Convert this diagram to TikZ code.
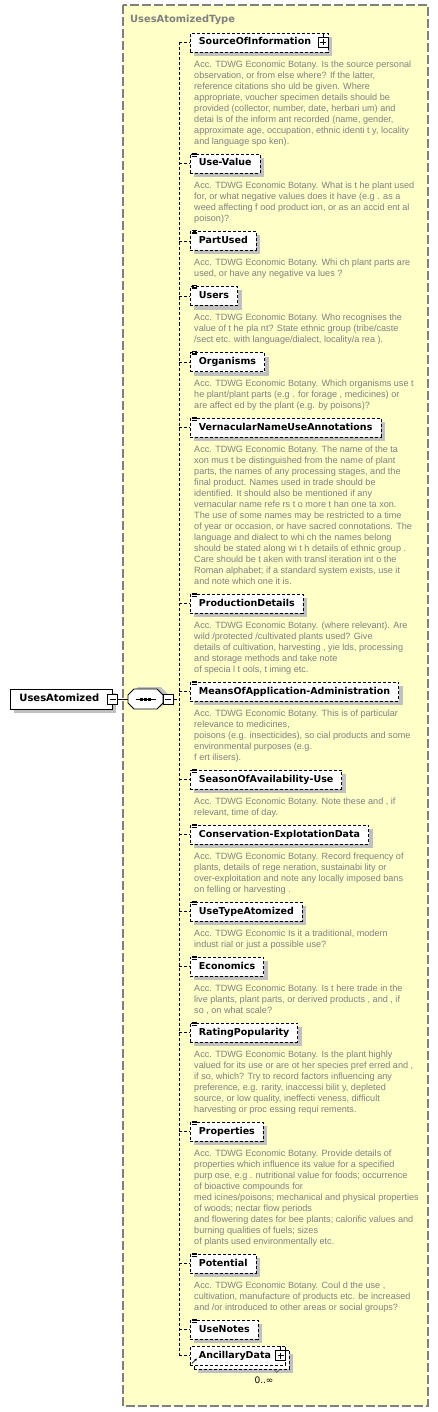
\documentclass[tikz,border=0pt]{standalone}
\usepackage{fontspec}
\setmainfont{DejaVu Sans}
\newfontfamily\descfont{Liberation Sans}
\usepackage{tikz}
\usetikzlibrary{positioning,shadows,arrows.meta}
\definecolor{typefill}{RGB}{255,255,200}
\definecolor{typeline}{RGB}{128,128,128}
\definecolor{descgray}{RGB}{128,128,128}
\definecolor{shadowgray}{RGB}{192,192,192}

\begin{document}
\begin{tikzpicture}[x=1pt,y=-1pt,
	boxshadow/.style={drop shadow={shadow xshift=4pt,shadow yshift=-4pt,fill=shadowgray,opacity=1}},
	elem/.style={draw,fill=white,dash pattern=on 3pt off 2pt,line width=.8pt,anchor=west,minimum height=19pt,inner xsep=8.5pt,inner ysep=0pt,text height=7pt,text depth=2pt,font=\fontsize{9.5}{11}\selectfont\bfseries},
	desc/.style={align=left,inner sep=0pt,text=descgray,font=\descfont\fontsize{9.1}{11}\selectfont},
	conn/.style={dash pattern=on 3pt off 2pt,line width=.8pt},
	pm/.style={draw,solid,fill=white,line width=.8pt,minimum size=10pt,inner sep=0pt},
	minus/.style={pm,path picture={\draw[line width=.8pt] ([xshift=2pt]path picture bounding box.west) -- ([xshift=-2pt]path picture bounding box.east);}},
	plus/.style={pm,path picture={\draw[line width=.8pt] ([xshift=2pt]path picture bounding box.west) -- ([xshift=-2pt]path picture bounding box.east) ([yshift=-2pt]path picture bounding box.north) -- ([yshift=2pt]path picture bounding box.south);}}]
	\useasboundingbox (0,0) rectangle (438,1412);
	% complex type
	\draw[typeline,fill=typefill,line width=1.2pt,dash pattern=on 9pt off 3pt] (123,5) rectangle (428,1406);
	\node[anchor=base west,inner sep=0pt,text=typeline,font=\fontsize{9.9}{12}\selectfont\bfseries] (typetitle) at (130,23) {UsesAtomizedType};
	% root element and sequence
	\node[draw,fill=white,line width=.8pt,anchor=west,minimum height=20pt,inner xsep=9pt,text height=7.5pt,text depth=2pt,font=\fontsize{10}{12}\selectfont\bfseries,boxshadow] (ua) at (10,699) {UsesAtomized\kern4pt};
	\node[minus] (uam) at (ua.east) {};
	\node[minimum width=35pt,minimum height=20pt,inner sep=0pt] (seq) at (145.5,699) {};
	\fill[shadowgray,shift={(seq)}] (-13.5,-6) -- (-7.5,-12) -- (15.5,-12) -- (21.5,-6) -- (21.5,2) -- (15.5,8) -- (-7.5,8) -- (-13.5,2) -- cycle;
	\draw[fill=white,line width=.8pt,shift={(seq)}] (-17.5,-4) -- (-11.5,-10) -- (11.5,-10) -- (17.5,-4) -- (17.5,4) -- (11.5,10) -- (-11.5,10) -- (-17.5,4) -- cycle;
	\draw[line width=.8pt,shift={(seq)}] (-10,0) -- (10,0);
	\foreach \x in {-4,0,4}
		\fill[shift={(seq)}] (\x-1.5,-1.5) rectangle (\x+1.5,1.5);
	\node[minus] (seqm) at ([xshift=5pt]seq.east) {};
	\draw[line width=.8pt] (uam.east) -- (seq.west);
	\coordinate (spine) at (179,699);
	% child elements
	\node[elem,boxshadow] (src) at (190,42.5) {SourceOfInformation\kern8.5pt};
	\node[plus] (srcplus) at ([xshift=-5pt]src.east) {};
	\draw[line width=.8pt] (srcplus.north) -- (srcplus.north |- src.north);
	\foreach \n/\y/\t in {usevalue/163.5/Use-Value, partused/241/PartUsed, users/296/Users,
		organisms/362/Organisms, vernacular/427.5/VernacularNameUseAnnotations,
		production/603.5/ProductionDetails, means/691.5/MeansOfApplication-Administration,
		season/779.5/SeasonOfAvailability-Use, conservation/834.5/Conservation-ExplotationData,
		usetype/911.5/UseTypeAtomized, economics/966.5/Economics, rating/1032.5/RatingPopularity,
		properties/1131.5/Properties, potential/1263.5/Potential, usenotes/1329.5/UseNotes}
		\node[elem,boxshadow] (\n) at (190,\y) {\t};
	\foreach \n in {usevalue,partused,users,organisms,vernacular,production,means,season,
		conservation,usetype,economics,rating,properties,potential,usenotes}
		\foreach \d in {-0.5,1,2.5}
			\draw[line width=.7pt] ([shift={(1.5,\d)}]\n.north west) -- ++(5,0);
	\node[elem,boxshadow] (ancback) at (194,1359.5) {\phantom{AncillaryData}\kern6pt};
	\node[elem] (anc) at (190,1355.5) {AncillaryData\kern6pt};
	\node[plus] (ancplus) at ([xshift=-5pt]anc.east) {};
	\draw[line width=.8pt] (ancplus.north) -- (ancplus.north |- anc.north);
	\draw[line width=.8pt,-{Latex[length=2.5pt,width=2.5pt]}] ([shift={(2,-2)}]anc.south west) -- ++(5,-5);
	\draw[line width=.6pt,black!70] ([xshift=-16pt]ancback.south east) -- ++(3,3) -- ++(3,-3);
	\node[inner sep=0pt,font=\fontsize{9}{11}\selectfont] (occ) at (264,1380) {0..∞};
	% connectors
	\draw[conn] (seqm.east) -- (spine);
	\draw[conn] (src.west -| spine) -- (anc.west -| spine);
	\foreach \n in {src,usevalue,partused,users,organisms,vernacular,production,means,season,
		conservation,usetype,economics,rating,properties,potential,usenotes,anc}
		\draw[conn] (\n.west -| spine) -- (\n.west);
	% annotations
	\node[desc,below right=7pt and 4pt of src.south west] (srcdoc) {\strut Acc. TDWG Economic Botany. Is the source personal\\observation, or from else where? If the latter,\\reference citations sho uld be given. Where\\appropriate, voucher specimen details should be\\provided (collector, number, date, herbari um) and\\detai ls of the inform ant recorded (name, gender,\\approximate age, occupation, ethnic identi t y, locality\\and language spo ken).};
	\node[desc,below right=7pt and 4pt of usevalue.south west] (usevaluedoc) {\strut Acc. TDWG Economic Botany. What is t he plant used\\for, or what negative values does it have (e.g . as a\\weed affecting f ood product ion, or as an accid ent al\\poison)?};
	\node[desc,below right=7pt and 4pt of partused.south west] (partuseddoc) {\strut Acc. TDWG Economic Botany. Whi ch plant parts are\\used, or have any negative va lues ?};
	\node[desc,below right=7pt and 4pt of users.south west] (usersdoc) {\strut Acc. TDWG Economic Botany. Who recognises the\\value of t he pla nt? State ethnic group (tribe/caste\\/sect etc. with language/dialect, locality/a rea ).};
	\node[desc,below right=7pt and 4pt of organisms.south west] (organismsdoc) {\strut Acc. TDWG Economic Botany. Which organisms use t\\he plant/plant parts (e.g . for forage , medicines) or\\are affect ed by the plant (e.g. by poisons)?};
	\node[desc,below right=7pt and 4pt of vernacular.south west] (vernaculardoc) {\strut Acc. TDWG Economic Botany. The name of the ta\\xon mus t be distinguished from the name of plant\\parts, the names of any processing stages, and the\\final product. Names used in trade should be\\identified. It should also be mentioned if any\\vernacular name refe rs t o more t han one ta xon.\\The use of some names may be restricted to a time\\of year or occasion, or have sacred connotations. The\\language and dialect to whi ch the names belong\\should be stated along wi t h details of ethnic group .\\Care should be t aken with transl iteration int o the\\Roman alphabet; if a standard system exists, use it\\and note which one it is.};
	\node[desc,below right=7pt and 4pt of production.south west] (productiondoc) {\strut Acc. TDWG Economic Botany. (where relevant). Are\\wild /protected /cultivated plants used? Give\\details of cultivation, harvesting , yie lds, processing\\and storage methods and take note\\of specia l t ools, t iming etc.};
	\node[desc,below right=7pt and 4pt of means.south west] (meansdoc) {\strut Acc. TDWG Economic Botany. This is of particular\\relevance to medicines,\\poisons (e.g. insecticides), so cial products and some\\environmental purposes (e.g.\\f ert ilisers).};
	\node[desc,below right=7pt and 4pt of season.south west] (seasondoc) {\strut Acc. TDWG Economic Botany. Note these and , if\\relevant, time of day.};
	\node[desc,below right=7pt and 4pt of conservation.south west] (conservationdoc) {\strut Acc. TDWG Economic Botany. Record frequency of\\plants, details of rege neration, sustainabi lity or\\over-exploitation and note any locally imposed bans\\on felling or harvesting .};
	\node[desc,below right=7pt and 4pt of usetype.south west] (usetypedoc) {\strut Acc. TDWG Economic Is it a traditional, modern\\indust rial or just a possible use?};
	\node[desc,below right=7pt and 4pt of economics.south west] (economicsdoc) {\strut Acc. TDWG Economic Botany. Is t here trade in the\\live plants, plant parts, or derived products , and , if\\so , on what scale?};
	\node[desc,below right=7pt and 4pt of rating.south west] (ratingdoc) {\strut Acc. TDWG Economic Botany. Is the plant highly\\valued for its use or are ot her species pref erred and ,\\if so, which? Try to record factors influencing any\\preference, e.g. rarity, inaccessi bilit y, depleted\\source, or low quality, ineffecti veness, difficult\\harvesting or proc essing requi rements.};
	\node[desc,below right=7pt and 4pt of properties.south west] (propertiesdoc) {\strut Acc. TDWG Economic Botany. Provide details of\\properties which influence its value for a specified\\purp ose, e.g . nutritional value for foods; occurrence\\of bioactive compounds for\\med icines/poisons; mechanical and physical properties\\of woods; nectar flow periods\\and flowering dates for bee plants; calorific values and\\burning qualities of fuels; sizes\\of plants used environmentally etc.};
	\node[desc,below right=7pt and 4pt of potential.south west] (potentialdoc) {\strut Acc. TDWG Economic Botany. Coul d the use ,\\cultivation, manufacture of products etc. be increased\\and /or introduced to other areas or social groups?};
\end{tikzpicture}
\end{document}
